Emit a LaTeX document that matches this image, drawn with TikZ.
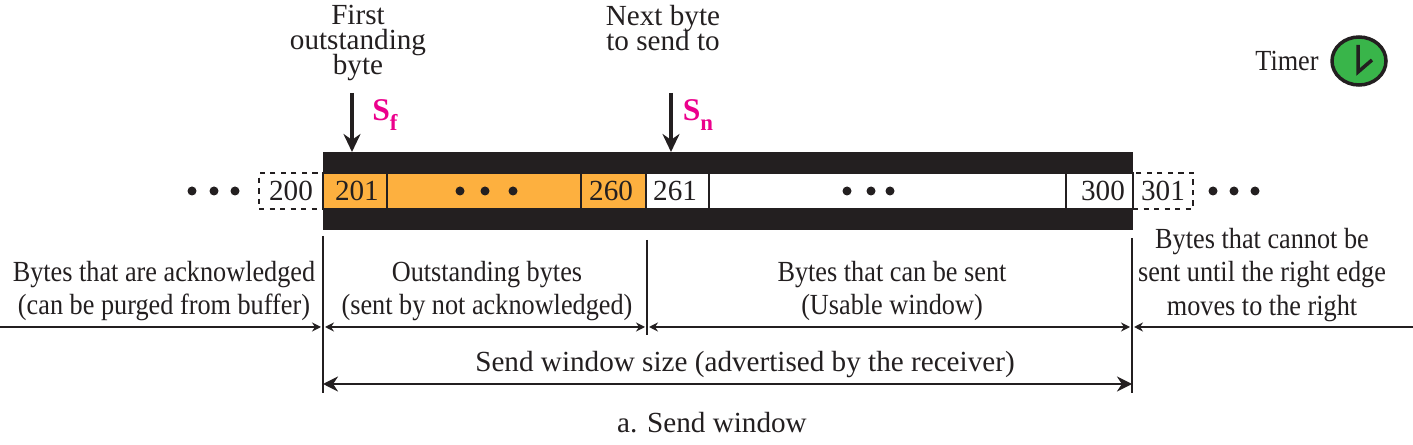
\documentclass[tikz,border=0pt]{standalone}
\usepackage{fontspec}
\setmainfont{Liberation Serif}
\newfontfamily\narrowfont[FakeStretch=0.9]{Liberation Serif}
\usetikzlibrary{shapes.geometric,arrows.meta}

\definecolor{barblack}{HTML}{231F20}
\definecolor{sentorange}{HTML}{FDB03F}
\definecolor{timergreen}{HTML}{39B54A}
\definecolor{labelpink}{HTML}{EC008C}

\begin{document}
\begin{tikzpicture}[
    x=0.02cm, y=-0.02cm,
    txt/.style={font=\fontsize{16.6}{14.2}\selectfont\lineskiplimit -8pt, align=center, inner sep=0pt, text=barblack},
    region/.style={font=\narrowfont\fontsize{16.6}{19}\selectfont\lineskiplimit -8pt, align=center, inner sep=0pt, text=barblack},
    bar/.style={rectangle, fill=barblack, inner sep=0pt, minimum height=0.43cm},
    cell/.style={rectangle, draw=barblack, line width=0.8pt, inner sep=0pt, minimum height=0.72cm, font=\fontsize{16.6}{14.2}\selectfont, text=barblack},
    ghost/.style={rectangle, draw=barblack, dashed, line width=0.7pt, inner sep=0pt, minimum height=0.72cm, font=\fontsize{16.6}{14.2}\selectfont, text=barblack},
    pointer/.style={-{Stealth[length=3.6mm, width=3.4mm]}, barblack, line width=2pt},
    span/.style={-{Stealth[length=1.8mm, width=1.8mm]}, barblack, line width=1.1pt},
    wide/.style={{Stealth[length=3mm, width=3mm]}-{Stealth[length=3mm, width=3mm]}, barblack, line width=1.6pt},
    tick/.style={barblack, line width=0.8pt},
    seqmark/.style={font=\fontsize{18}{18}\selectfont\bfseries, text=labelpink, inner sep=0pt},
]
\useasboundingbox (0,0) rectangle (1413,445);

% ====== Window cells ======
\node[ghost, minimum width=1.28cm] (c200) at (291,191) {200};
\node[ghost, minimum width=1.2cm] (c301) at (1163,191) {301};
\node[cell, fill=sentorange, minimum width=1.28cm] (c201) at (355,191) {\kern2.2pt 201};
\node[cell, fill=sentorange, minimum width=3.88cm] (cOut) at (484,191) {};
\node[cell, fill=sentorange, minimum width=1.3cm] (c260) at (613.5,191) {260\kern2.8pt};
\node[cell, fill=white, minimum width=1.26cm] (c261) at (677.5,191) {261\kern2.8pt};
\node[cell, fill=white, minimum width=7.14cm] (cUse) at (887.5,191) {};
\node[cell, fill=white, minimum width=1.34cm] (c300) at (1099.5,191) {\kern4pt 300};
\node[bar, minimum width=16.2cm] (topBar) at (728,162.5) {};
\node[bar, minimum width=16.2cm] (botBar) at (728,219.5) {};

% ====== Dots ======
\foreach \px/\py in {192/191, 214/191, 235/191, 460/191, 485/191, 513/191, 847/191, 871/191, 890/191, 1213/191, 1234/191, 1255/191}
    \fill[barblack] (\px,\py) circle (0.09cm);

% ====== Pointers ======
\node[txt] (first) at (358,43) {First\\outstanding\\byte};
\node[txt] (next) at (663,28) {Next byte\\to send to};
\node[seqmark] (sf) at (385,115) {S\raisebox{-0.3em}{\fontsize{13}{13}\selectfont f}};
\node[seqmark] (sn) at (698,115) {S\raisebox{-0.3em}{\fontsize{13}{13}\selectfont n}};
\coordinate (sfTop) at (352,93);
\coordinate (sfTip) at (352,152);
\coordinate (snTop) at (671,93);
\coordinate (snTip) at (671,152);
\draw[pointer] (sfTop) -- (sfTip);
\draw[pointer] (snTop) -- (snTip);

% ====== Timer ======
\node[region] (timer) at (1287,61) {Timer};
\node[ellipse, draw=barblack, fill=timergreen, line width=2pt, minimum width=1.08cm, minimum height=0.96cm, inner sep=0pt] (clock) at (1359,61) {};
\draw[barblack, line width=2pt] (1358,45) -- (1358,72) -- (1372,60);

% ====== Region labels ======
\node[region] (acked) at (164,291) {Bytes that are acknowledged\\(can be purged from buffer)};
\node[region] (outst) at (487,291) {Outstanding bytes\\(sent by not acknowledged)};
\node[region] (usable) at (892,291) {Bytes that can be sent\\(Usable window)};
\node[region] (cannot) at (1262,275) {Bytes that cannot be\\sent until the right edge\\moves to the right};
\node[txt] (size) at (745,365) {Send window size (advertised by the receiver)};
\node[txt] (caption) at (712,423) {a. Send window};

% ====== Ticks ======
\coordinate (tickAt) at (323,236);
\coordinate (tickAb) at (323,393);
\coordinate (tickBt) at (647,240);
\coordinate (tickBb) at (647,335);
\coordinate (tickCt) at (1132,238);
\coordinate (tickCb) at (1132,393);
\draw[tick] (tickAt) -- (tickAb);
\draw[tick] (tickBt) -- (tickBb);
\draw[tick] (tickCt) -- (tickCb);

% ====== Spans ======
\coordinate (leftEnd) at (0,327);
\coordinate (rightEnd) at (1413,327);
\coordinate (a1) at (321,327);
\coordinate (a2) at (325,327);
\coordinate (b1) at (645,327);
\coordinate (b2) at (649,327);
\coordinate (c1) at (1130,327);
\coordinate (c2) at (1134,327);
\coordinate (wideA) at (323,384);
\coordinate (wideC) at (1132,384);
\draw[span] (leftEnd) -- (a1);
\draw[span, <->, >={Stealth[length=1.8mm, width=1.8mm]}] (a2) -- (b1);
\draw[span, <->, >={Stealth[length=1.8mm, width=1.8mm]}] (b2) -- (c1);
\draw[span] (rightEnd) -- (c2);
\draw[wide] (wideA) -- (wideC);

\end{tikzpicture}
\end{document}
